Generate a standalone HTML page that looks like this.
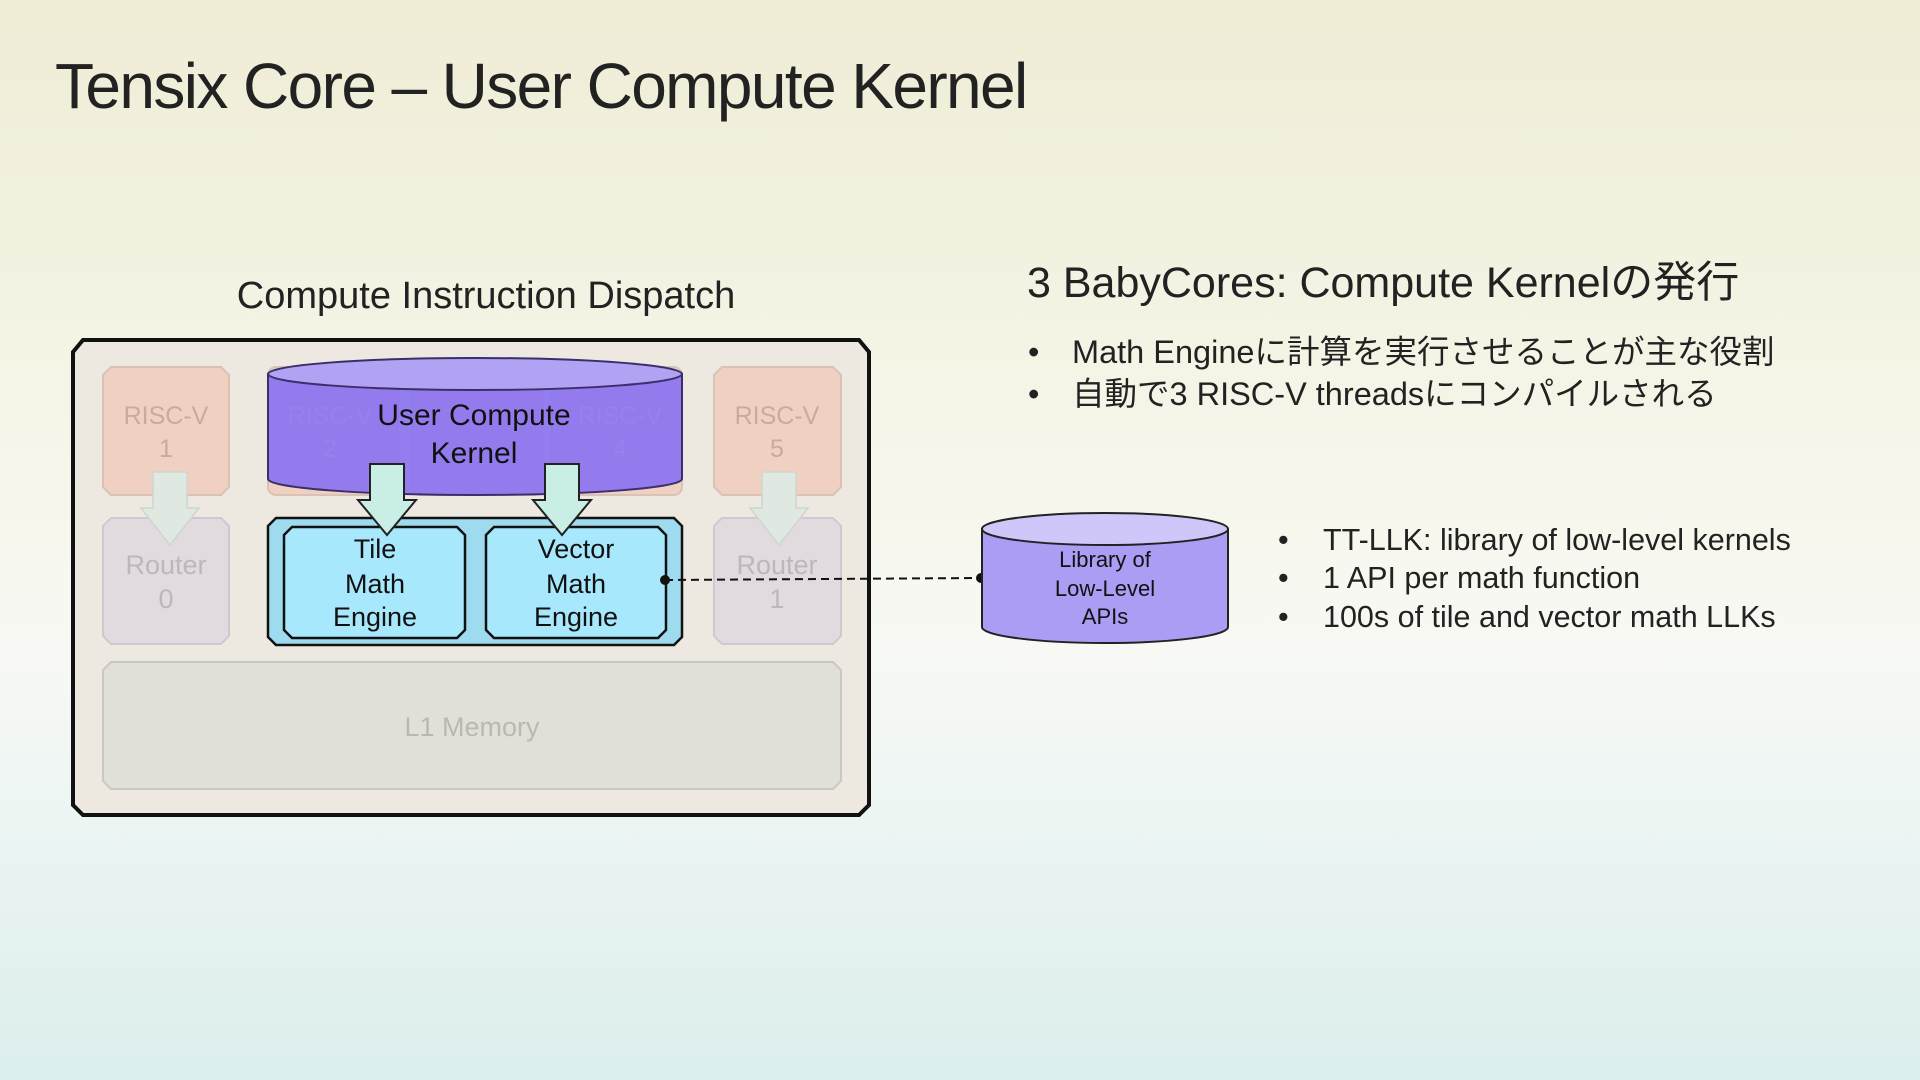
<!DOCTYPE html>
<html><head><meta charset="utf-8"><style>
html,body{margin:0;padding:0;}
body{width:1920px;height:1080px;overflow:hidden;background:linear-gradient(180deg,#efedd6 0%,#f5f4e6 35%,#f8f9f4 60%,#e9f4f2 80%,#dbeeed 100%);font-family:"Liberation Sans","Noto Sans CJK JP",sans-serif;}
svg{position:absolute;left:0;top:0;}
</style></head><body>
<svg width="1920" height="1080" viewBox="0 0 1920 1080" font-family="Liberation Sans, Noto Sans CJK JP, sans-serif">
<text x="55" y="108" font-size="64" fill="#222" letter-spacing="-1.6">Tensix Core – User Compute Kernel</text>
<text x="486" y="308" font-size="38" fill="#222" text-anchor="middle">Compute Instruction Dispatch</text>
<!-- outer box -->
<polygon points="83,340 859,340 869,352 869,805 859,815 83,815 73,805 73,352" fill="#ede9e0" stroke="#111" stroke-width="4"/>
<!-- RISC-V boxes -->
<g stroke="#d9c3b6" stroke-width="2" fill="#f0d0c0">
<polygon points="111,367 221,367 229,375 229,487 221,495 111,495 103,487 103,375"/>
<polygon points="722,367 833,367 841,375 841,487 833,495 722,495 714,487 714,375"/>
<rect x="268" y="367" width="130" height="128" rx="8"/>
<rect x="412" y="367" width="130" height="128" rx="8"/>
<rect x="552" y="367" width="130" height="128" rx="8"/>
</g>
<g stroke="#cfc8cf" stroke-width="2" fill="#e1dbe0">
<polygon points="111,518 221,518 229,526 229,636 221,644 111,644 103,636 103,526"/>
<polygon points="722,518 833,518 841,526 841,636 833,644 722,644 714,636 714,526"/>
</g>
<polygon points="111,662 833,662 841,670 841,781 833,789 111,789 103,781 103,670" fill="#e0e0d8" stroke="#c9c9c2" stroke-width="2"/>
<g font-size="25" fill="#c4aca2" text-anchor="middle">
<text x="166" y="424">RISC-V</text><text x="166" y="457">1</text>
<text x="777" y="424">RISC-V</text><text x="777" y="457">5</text>
</g>
<g font-size="27" fill="#bdb6bd" text-anchor="middle">
<text x="166" y="574">Router</text><text x="166" y="608">0</text>
<text x="777" y="574">Router</text><text x="777" y="608">1</text>
</g>
<text x="472" y="736" font-size="27" fill="#b9b9b2" text-anchor="middle">L1 Memory</text>
<!-- kernel cylinder -->
<path d="M268,374 L268,479 A207,16 0 0 0 682,479 L682,374 Z" fill="#8c74f0" fill-opacity="0.93" stroke="#3a2f6a" stroke-width="2"/>
<ellipse cx="475" cy="374" rx="207" ry="16" fill="#b2a2f4" stroke="#3a2f6a" stroke-width="2"/>
<g font-size="25" fill="#9a86e8" text-anchor="middle" fill-opacity="0.6">
<text x="330" y="424">RISC-V</text><text x="330" y="457">2</text>
<text x="620" y="424">RISC-V</text><text x="620" y="457">4</text>
</g>
<text x="474" y="425" font-size="30" fill="#111" text-anchor="middle">User Compute</text>
<text x="474" y="463" font-size="30" fill="#111" text-anchor="middle">Kernel</text>
<!-- math container -->
<polygon points="276,518 674,518 682,526 682,637 674,645 276,645 268,637 268,526" fill="#9fdbef" stroke="#111" stroke-width="2.5"/>
<polygon points="292,527 457,527 465,535 465,630 457,638 292,638 284,630 284,535" fill="#a8e8fc" stroke="#111" stroke-width="2.5"/>
<polygon points="494,527 658,527 666,535 666,630 658,638 494,638 486,630 486,535" fill="#a8e8fc" stroke="#111" stroke-width="2.5"/>
<g font-size="27" fill="#111" text-anchor="middle">
<text x="375" y="558">Tile</text><text x="375" y="593">Math</text><text x="375" y="626">Engine</text>
<text x="576" y="558">Vector</text><text x="576" y="593">Math</text><text x="576" y="626">Engine</text>
</g>
<!-- arrows -->
<g fill="#c8eee6" stroke="#222" stroke-width="2">
<polygon points="370,464 404,464 404,500 416,500 387,535 358,500 370,500"/>
<polygon points="545,464 579,464 579,500 591,500 562,535 533,500 545,500"/>
</g>
<g fill="#dfe9e2" stroke="#cdd6cf" stroke-width="1.5">
<polygon points="153,472 187,472 187,508 199,508 170,545 141,508 153,508"/>
<polygon points="762,472 796,472 796,508 808,508 779,545 750,508 762,508"/>
</g>
<!-- dashed connector -->
<line x1="665" y1="580" x2="981" y2="578" stroke="#111" stroke-width="2" stroke-dasharray="8,5"/>
<circle cx="665" cy="580" r="5" fill="#111"/>
<circle cx="981" cy="578" r="5" fill="#111"/>
<!-- library cylinder -->
<path d="M982,529 L982,627 A123,16 0 0 0 1228,627 L1228,529 Z" fill="#ab9cf4" stroke="#222" stroke-width="2"/>
<ellipse cx="1105" cy="529" rx="123" ry="16" fill="#cfc6fa" stroke="#222" stroke-width="2"/>
<g font-size="22" fill="#111" text-anchor="middle">
<text x="1105" y="567">Library of</text><text x="1105" y="596">Low-Level</text><text x="1105" y="624">APIs</text>
</g>
<!-- right text -->
<text x="1027" y="297" font-size="43" fill="#222">3 BabyCores: Compute Kernelの発行</text>
<g font-size="32.5" fill="#222">
<text x="1028" y="363">•</text><text x="1072" y="363">Math Engineに計算を実行させることが主な役割</text>
<text x="1028" y="405">•</text><text x="1072" y="405">自動で3 RISC-V threadsにコンパイルされる</text>
</g>
<g font-size="30.5" fill="#222">
<text x="1278" y="550">•</text><text x="1323" y="550">TT-LLK: library of low-level kernels</text>
<text x="1278" y="588">•</text><text x="1323" y="588">1 API per math function</text>
<text x="1278" y="627">•</text><text x="1323" y="627">100s of tile and vector math LLKs</text>
</g>
</svg>
</body></html>
